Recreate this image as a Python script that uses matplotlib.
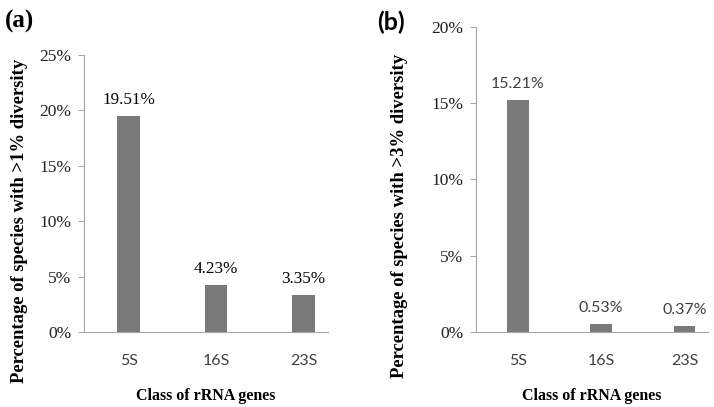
import matplotlib
matplotlib.use("Agg")
import matplotlib.pyplot as plt

# data
genes = ["5S", "16S", "23S"]
div1_pct = [19.51, 4.23, 3.35]   # species with >1% diversity
div3_pct = [15.21, 0.53, 0.37]   # species with >3% diversity
yticks_a = [0, 5, 10, 15, 20, 25]
yticks_b = [0, 5, 10, 15, 20]

serif = "Liberation Serif"
sans = "Lato"
bar_color = "#7a7a7a"
axis_color = "#a6a6a6"

fig = plt.figure(figsize=(7.14, 4.07), dpi=100)
ax1 = fig.add_axes([0.1176, 0.1843, 0.3417, 0.6806])
ax2 = fig.add_axes([0.6667, 0.1843, 0.3249, 0.7494])


def style(ax, vals, yticks, ylabel, label_font, label_size, lab_color, xlim, ylab_xy, xlab_y):
    x = range(len(genes))
    ax.bar(x, vals, width=0.26, color=bar_color, zorder=2)
    for xi, v in zip(x, vals):
        ax.annotate("{:.2f}%".format(v), (xi, v), xytext=(0, 11.5), textcoords="offset points",
                    ha="center", va="center", fontsize=label_size, family=label_font, color=lab_color)
    ax.set_xlim(*xlim)
    ax.set_ylim(0, yticks[-1])
    ax.set_yticks(yticks)
    ax.set_yticklabels(["{}%".format(t) for t in yticks], family=serif, fontsize=12.5, color="#222222")
    ax.set_xticks(list(x))
    ax.set_xticklabels(genes, family=sans, fontsize=11.5, color="#404040")
    ax.tick_params(axis="x", length=0, pad=16)
    ax.tick_params(axis="y", length=4, color=axis_color, width=0.8, pad=5)
    for s in ["top", "right"]:
        ax.spines[s].set_visible(False)
    for s in ["left", "bottom"]:
        ax.spines[s].set_color(axis_color)
        ax.spines[s].set_linewidth(0.8)
    ax.set_ylabel(ylabel, family=serif, fontsize=13.4, fontweight="bold")
    ax.yaxis.label.set_va("center")
    ax.yaxis.set_label_coords(*ylab_xy)
    ax.set_xlabel("Class of rRNA genes", family=serif, fontsize=11.5, fontweight="bold")
    ax.xaxis.set_label_coords(0.5, xlab_y)


style(ax1, div1_pct, yticks_a, "Percentage of species with >1% diversity", serif, 12.3, "black",
      (-0.51, 2.28), (-0.266, 0.40), -0.202)
style(ax2, div3_pct, yticks_b, "Percentage of species with >3% diversity", sans, 11.5, "#404040",
      (-0.50, 2.28), (-0.33, 0.38), -0.184)

fig.text(0.007, 0.975, "(a)", family=serif, fontsize=18, fontweight="bold", va="top", ha="left")
fig.text(0.528, 0.975, "(b)", family=sans, fontsize=18, fontweight="bold", va="top", ha="left")

fig.savefig("out.png", dpi=100)
